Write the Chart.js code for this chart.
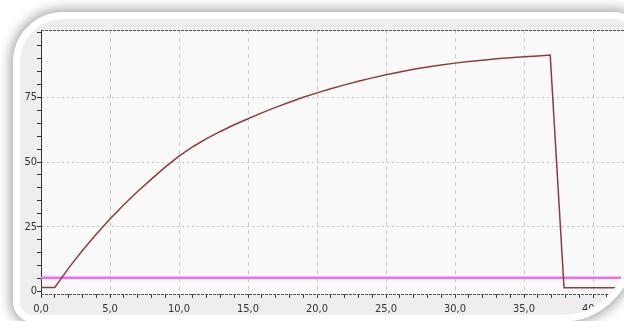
<!DOCTYPE html>
<html>
<head>
<meta charset="utf-8">
<script src="https://cdn.jsdelivr.net/npm/chart.js@4.4.0/dist/chart.umd.min.js"></script>
<style>
  html, body { margin: 0; padding: 0; background: #fff; width: 624px; height: 321px; overflow: hidden; }
  #frame {
    position: absolute; left: 13px; top: 12px; width: 622px; height: 310px;
    box-sizing: border-box; border: 7px solid #fff;
    border-radius: 50px 20px 74px 20px;
    background: #eeeeee;
    box-shadow: 0 0 12px 3px rgba(0,0,0,0.35);
    overflow: hidden;
  }
  #chart { position: absolute; left: -20px; top: -19px; }
</style>
</head>
<body>
<div id="frame">
  <canvas id="chart" width="700" height="321"></canvas>
</div>
<script>
// curve
const curveX = [0, 1, 2, 3, 4, 5, 6, 7, 8, 9, 10, 11, 12, 13, 14, 15, 16, 17, 18, 19, 20,
                21, 22, 23, 24, 25, 26, 27, 28, 29, 30, 31, 32, 33, 34, 35, 36, 36.9, 37.9, 45];
const curveY = [1.5, 1.5, 9.0, 15.8, 22.1, 28.0, 33.5, 38.6, 43.4, 48.0, 52.3, 55.9, 59.0, 61.8, 64.4, 66.7,
                69.0, 71.1, 73.1, 75.0, 76.7, 78.3, 79.8, 81.2, 82.5, 83.7, 84.8, 85.8, 86.7, 87.5, 88.2,
                88.8, 89.35, 89.85, 90.3, 90.7, 91.0, 91.3, 1.4, 1.4];
const limitX = [0, 45];
const limitY = [5.3, 5.3];

const xTicks = [0, 1, 2, 3, 4, 5, 6, 7, 8, 9, 10, 11, 12, 13, 14, 15, 16, 17, 18, 19, 20, 21, 22,
                23, 24, 25, 26, 27, 28, 29, 30, 31, 32, 33, 34, 35, 36, 37, 38, 39, 40, 41, 42, 43, 44, 45];
const xLabeled = [0, 5, 10, 15, 20, 25, 30, 35, 40];
const yTicks = [0, 5, 10, 15, 20, 25, 30, 35, 40, 45, 50, 55, 60, 65, 70, 75, 80, 85, 90, 95, 100];
const yLabeled = [0, 25, 50, 75];

const tickFont = { family: '"Liberation Sans Narrow", "DejaVu Sans Condensed", sans-serif', size: 11 };

const plotFrame = {
    id: 'plotFrame',
    beforeDraw(chart) {
        const { ctx, chartArea: a } = chart;
        ctx.save();
        ctx.fillStyle = '#f9f9f9';
        ctx.fillRect(a.left, a.top, a.right - a.left, a.bottom - a.top);
        ctx.restore();
    },
    afterDraw(chart) {
        const { ctx, chartArea: a } = chart;
        ctx.save();
        ctx.strokeStyle = '#555';
        ctx.lineWidth = 1;
        ctx.setLineDash([3, 1]);
        ctx.beginPath();
        ctx.moveTo(a.left, a.top + 0.5);
        ctx.lineTo(a.right, a.top + 0.5);
        ctx.moveTo(a.left, a.bottom + 0.5);
        ctx.lineTo(a.right, a.bottom + 0.5);
        ctx.stroke();
        ctx.restore();
    }
};

new Chart(document.getElementById('chart'), {
    type: 'line',
    data: {
        datasets: [{
            data: curveX.map((x, i) => ({ x: x, y: curveY[i] })),
            borderColor: '#923b3b',
            borderWidth: 1.5,
            pointRadius: 0,
            tension: 0
        }, {
            data: limitX.map((x, i) => ({ x: x, y: limitY[i] })),
            borderColor: '#f06cf0',
            borderWidth: 2.5,
            pointRadius: 0
        }]
    },
    options: {
        responsive: false,
        animation: false,
        layout: { padding: { top: 30, right: 38, left: 0, bottom: 0 } },
        plugins: { legend: { display: false }, tooltip: { enabled: false } },
        scales: {
            x: {
                type: 'linear',
                min: 0,
                max: 45,
                afterBuildTicks: s => { s.ticks = xTicks.map(v => ({ value: v })); },
                afterFit: s => { s.height = 27; },
                ticks: {
                    autoSkip: false,
                    maxRotation: 0,
                    padding: 5,
                    color: '#333',
                    font: tickFont,
                    callback: v => xLabeled.includes(v) ? v.toFixed(1).replace('.', ',') : ''
                },
                grid: {
                    color: c => (c.tick && xLabeled.includes(c.tick.value) && c.tick.value > 0) ? '#c8c8c8' : 'transparent',
                    tickColor: '#444',
                    tickLength: 4,
                    tickBorderDash: []
                },
                border: { display: false, dash: [4, 4] }
            },
            y: {
                min: -1,
                max: 101,
                afterBuildTicks: s => { s.ticks = yTicks.map(v => ({ value: v })); },
                afterFit: s => { s.width = 41; },
                ticks: {
                    autoSkip: false,
                    padding: 0,
                    color: '#333',
                    font: tickFont,
                    callback: v => yLabeled.includes(v) ? String(v) : ''
                },
                grid: {
                    color: c => (c.tick && yLabeled.includes(c.tick.value) && c.tick.value > 0) ? '#c4c4c4' : 'transparent',
                    tickColor: '#333',
                    tickLength: 4,
                    tickBorderDash: []
                },
                border: { display: true, color: '#333', width: 1, dash: [2, 3] }
            }
        }
    },
    plugins: [plotFrame]
});
</script>
</body>
</html>
